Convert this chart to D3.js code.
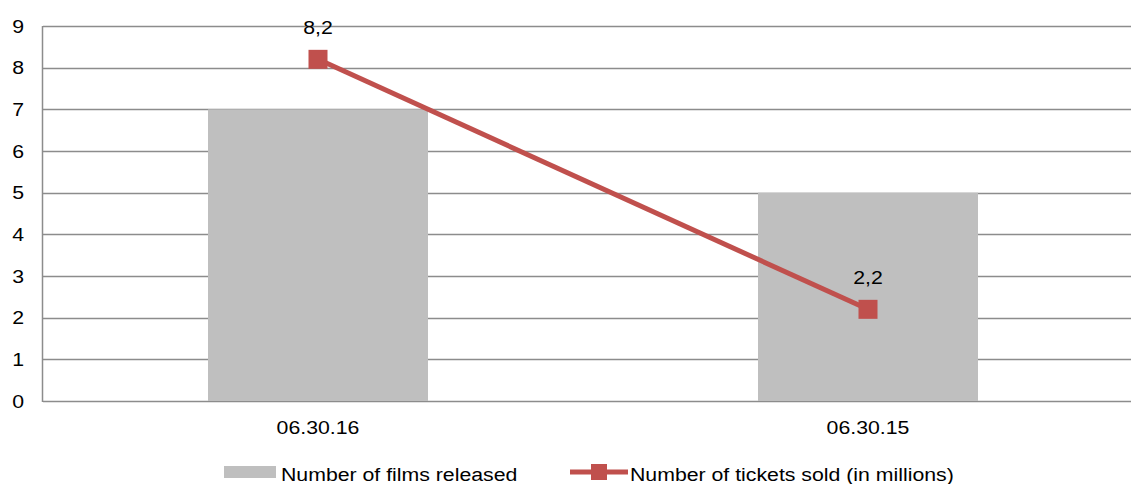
<!DOCTYPE html>
<html>
<head>
<meta charset="utf-8">
<script src="https://cdn.jsdelivr.net/npm/d3@7"></script>
<style>
  html, body { margin: 0; padding: 0; background: #fff; }
  svg { display: block; font-family: "Liberation Sans", Arial, sans-serif; }
</style>
</head>
<body>
<svg id="chart" width="1131" height="484"></svg>
<script>
const categories = ["06.30.16", "06.30.15"];
const filmsReleased = [7, 5];
const ticketsSold = [8.2, 2.2];
const yTicks = [0, 1, 2, 3, 4, 5, 6, 7, 8, 9];
const seriesNames = ["Number of films released", "Number of tickets sold (in millions)"];

const svg = d3.select("#chart");
const margin = { left: 43, top: 26, bottom: 401, right: 1143 };

const x = d3.scaleBand().domain(categories).range([margin.left, margin.right]).paddingInner(0).paddingOuter(0);
const y = d3.scaleLinear().domain([0, 9]).range([margin.bottom, margin.top]);

const gridColor = "#8c8c8c";
const barColor = "#bfbfbf";
const lineColor = "#c0504d";
const fontSize = 19;
const stretch = 1.12;
const fmt = v => String(v).replace(".", ",");

// text helper: slightly widened glyphs
function label(sel, anchor) {
  return sel.attr("x", 0).attr("y", 0)
    .attr("text-anchor", anchor)
    .attr("font-size", fontSize).attr("fill", "#000");
}

// horizontal gridlines
svg.append("g").selectAll("line").data(yTicks).join("line")
  .attr("x1", margin.left).attr("x2", margin.right)
  .attr("y1", d => Math.round(y(d)) + 0.5).attr("y2", d => Math.round(y(d)) + 0.5)
  .attr("stroke", gridColor).attr("stroke-width", 1.5);

// y axis line
svg.append("line")
  .attr("x1", margin.left - 0.5).attr("x2", margin.left - 0.5)
  .attr("y1", y(9)).attr("y2", y(0) + 1)
  .attr("stroke", gridColor).attr("stroke-width", 1.5);

// y tick labels
svg.append("g").selectAll("text").data(yTicks).join("text")
  .call(label, "end")
  .attr("transform", d => `translate(24,${y(d) + 6.5}) scale(${stretch},1)`)
  .text(d => d);

// bars
const barW = x.bandwidth() * 0.4;
svg.append("g").selectAll("rect").data(categories).join("rect")
  .attr("x", d => x(d) + x.bandwidth() / 2 - barW / 2)
  .attr("y", (d, i) => y(filmsReleased[i]))
  .attr("width", barW)
  .attr("height", (d, i) => y(0) - y(filmsReleased[i]))
  .attr("fill", barColor);

// category labels
svg.append("g").selectAll("text").data(categories).join("text")
  .call(label, "middle")
  .attr("transform", d => `translate(${x(d) + x.bandwidth() / 2},434) scale(${stretch},1)`)
  .text(d => d);

// line series
const pts = categories.map((c, i) => [x(c) + x.bandwidth() / 2, y(ticketsSold[i])]);
svg.append("path")
  .attr("d", d3.line()(pts))
  .attr("fill", "none").attr("stroke", lineColor).attr("stroke-width", 5);

const mk = 19;
svg.append("g").selectAll("rect").data(pts).join("rect")
  .attr("x", d => d[0] - mk / 2).attr("y", d => d[1] - mk / 2)
  .attr("width", mk).attr("height", mk)
  .attr("fill", lineColor);

// value labels
svg.append("g").selectAll("text").data(pts).join("text")
  .call(label, "middle")
  .attr("transform", d => `translate(${d[0]},${d[1] - 25.5}) scale(${stretch},1)`)
  .text((d, i) => fmt(ticketsSold[i]));

// legend
const lg = svg.append("g");
lg.append("rect").attr("x", 224).attr("y", 466).attr("width", 52).attr("height", 12).attr("fill", barColor);
lg.append("text").call(label, "start")
  .attr("transform", `translate(281,481) scale(${stretch},1)`).text(seriesNames[0]);
lg.append("line").attr("x1", 570).attr("x2", 628).attr("y1", 472).attr("y2", 472)
  .attr("stroke", lineColor).attr("stroke-width", 5);
lg.append("rect").attr("x", 591).attr("y", 464).attr("width", 16).attr("height", 16).attr("fill", lineColor);
lg.append("text").call(label, "start")
  .attr("transform", `translate(630,481) scale(${stretch},1)`).text(seriesNames[1]);
</script>
</body>
</html>
